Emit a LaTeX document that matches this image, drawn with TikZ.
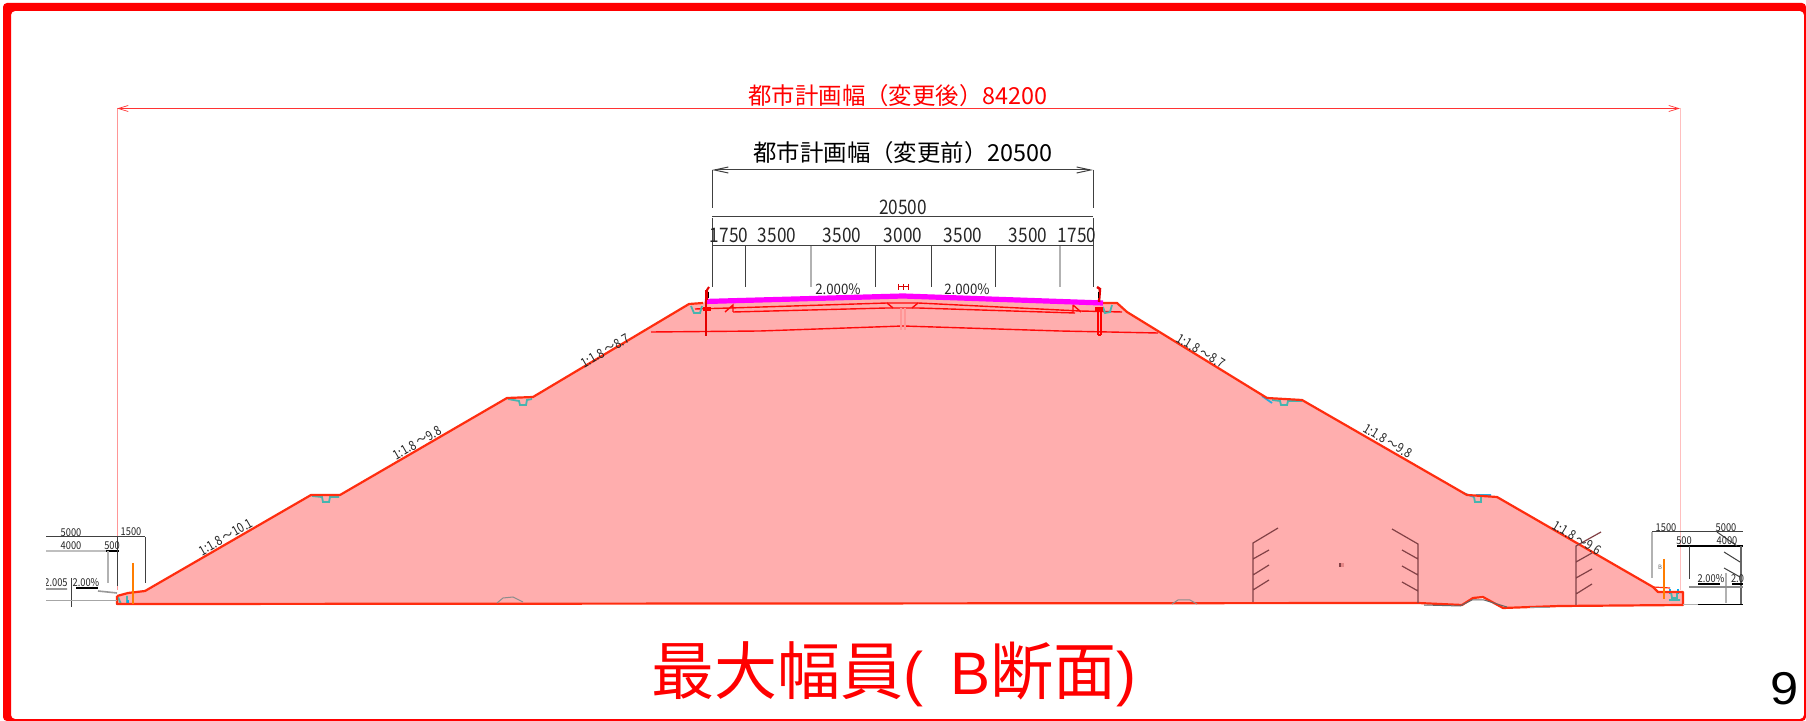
\documentclass[tikz,border=0pt]{standalone}
\usepackage{fontspec}
\setmainfont{Noto Sans CJK JP}
\newfontfamily\latinsans{Liberation Sans}
\newcommand{\numtxt}[1]{\scalebox{0.86}[1]{\fontsize{10pt}{10pt}\selectfont #1}}
\newcommand{\slopetxt}[1]{\scalebox{0.84}[1]{\fontsize{6.6pt}{6.6pt}\selectfont #1}}
\newcommand{\smalltxt}[1]{\scalebox{0.92}[1]{\fontsize{7.2pt}{7.2pt}\selectfont #1}}
\newcommand{\sidetxt}[1]{\scalebox{0.86}[1]{\fontsize{5.4pt}{5.4pt}\selectfont #1}}
\definecolor{embank}{RGB}{255,174,174}
\definecolor{outl}{RGB}{255,45,15}
\definecolor{inred}{RGB}{255,10,10}
\definecolor{wallc}{RGB}{130,65,70}
\definecolor{teal2}{RGB}{70,180,175}
\definecolor{ltred}{RGB}{255,150,150}
\definecolor{roadc}{RGB}{255,0,255}
\definecolor{orangec}{RGB}{255,125,0}
\usetikzlibrary{arrows.meta}
\tikzset{
  dimline/.style={draw=black!75,line width=0.5pt},
  graytick/.style={draw=black!30,line width=0.6pt},
  darktick/.style={draw=black!75,line width=0.5pt},
  wall/.style={draw=wallc,line width=0.6pt},
  inner/.style={draw=inred,line width=0.7pt},
  ditch/.style={draw=teal2,line width=0.9pt},
  txt/.style={inner sep=0pt,outer sep=0pt,anchor=center,text=black!85},
  redarrow/.style={draw=red!80,line width=0.35pt,{Straight Barb[length=5pt,width=3pt]}-{Straight Barb[length=5pt,width=3pt]}},
  blackarrow/.style={draw=black!75,line width=0.5pt,{Straight Barb[length=7pt,width=3pt]}-{Straight Barb[length=7pt,width=3pt]}}
}
\begin{document}
\begin{tikzpicture}[x=0.5pt,y=-0.5pt]
\useasboundingbox (0,0) rectangle (1806,721);
\fill[white] (0,0) rectangle (1806,721);
% frame
\fill[red,even odd rule,rounded corners=2pt] (3,3) rectangle (1806,721) (11,11) rectangle (1804,719);
% embankment
\path[fill=embank] (117,596) -- (128,593) -- (145,591) -- (311,495) -- (340,495) -- (507,398) -- (533,397) -- (689,304) -- (703,303) -- (705,301) -- (903,295) -- (1103,303) -- (1117,303) -- (1127,312) -- (1267,398) -- (1302,400) -- (1467,495) -- (1497,497) -- (1653,587) -- (1658,592) -- (1683,592) -- (1683,605) -- (1560,606) -- (1503,608) -- (1483,597) -- (1473,598) -- (1462,605) -- (1418,603) -- (133,604) -- (117,604) -- cycle;
% light lines
\draw[ltred,line width=0.5pt] (117,108) -- (117,590);
\draw[red!25,line width=0.5pt] (1680,108) -- (1680,590);
\draw[redarrow] (117,108.5) -- (1680,108.5);
% interior lines
\draw[inner] (695,309) -- (730,308) -- (887,303) -- (918,303) -- (1080,311) -- (1122,312);
\draw[inner] (733,312) -- (887,308) -- (918,308) -- (1075,313);
\draw[inner] (651,332) -- (760,331) -- (903,326) -- (1060,331) -- (1158,333);
\draw[inner] (725,312) -- (733,305) -- (733,312);
\draw[inner] (1073,305) -- (1073,312) (1073,305) -- (1081,312);
\draw[inner] (887,303) -- (893,308) (918,303) -- (912,308);
\draw[ltred,line width=0.8pt] (901,308) -- (901,330) (905,308) -- (905,330);
% ditches
\draw[ditch] (691,306) -- (694,313) -- (700,313) -- (702,306);
\draw[ditch] (1103,307) -- (1105,313) -- (1110,312) -- (1112,305);
\draw[ditch] (508,399) -- (519,401) -- (520,405) -- (526,405) -- (527,400) -- (532,399);
\draw[ditch] (312,496) -- (322,497) -- (323,502) -- (329,502) -- (330,497) -- (339,497);
\draw[ditch,cyan!70!teal2] (1262,396) -- (1272,403);
\draw[ditch] (1272,400) -- (1280,401) -- (1281,405) -- (1287,405) -- (1288,401) -- (1302,401);
\draw[ditch,cyan!70!teal2] (1463,493) -- (1474,497) (1476,495) -- (1491,495);
\draw[ditch] (1474,497) -- (1475,502) -- (1481,502) -- (1481,497);
\draw[ditch] (118,597) -- (121,604) -- (127,604) -- (127,596);
\draw[cyan,line width=1pt] (117,600) -- (117,604.5) -- (128,604.5) -- (128,600);
\draw[cyan,line width=1pt] (1670,589) -- (1670,594) (1678,589) -- (1678,594);
\draw[ditch] (1671,592) -- (1672,598) -- (1677,598) -- (1677,592) (1669,600) -- (1680,600);
% outline
\draw[outl,line width=1.1pt,line join=round] (117,596) -- (128,593) -- (145,591) -- (311,495) -- (340,495) -- (507,398) -- (533,397) -- (689,304) -- (703,303);
\draw[outl,line width=1.1pt,line join=round] (1103,303) -- (1117,303) -- (1127,312) -- (1267,398) -- (1302,400) -- (1467,495) -- (1497,497) -- (1653,587) -- (1658,592) -- (1683,592) -- (1683,605) -- (1560,606) -- (1503,608) -- (1483,597) -- (1473,598) -- (1462,605) -- (1418,603) -- (133,604) -- (117,604) -- (117,596);
\draw[outl,line width=0.6pt] (1653,587) -- (1670,588);
% base bumps, grey underlay
\draw[black!45,line width=0.5pt] (497,603) -- (503,598) -- (513,597) -- (523,602);
\draw[black!45,line width=0.5pt] (1172,604) -- (1178,600) -- (1190,600) -- (1197,604);
\draw[black!60,line width=0.5pt] (1424,605) -- (1460,606) -- (1472,600) -- (1484,600) -- (1507,607);
\draw[black!40,line width=0.5pt] (1530,607.5) -- (1550,607.5);
% walls
\draw[wall] (1278,528) -- (1253,543) -- (1253,602) (1253,559) -- (1269,550) (1253,575) -- (1269,565) (1253,590) -- (1269,580);
\draw[wall] (1392,529) -- (1418,544) -- (1418,603) (1418,559) -- (1402,550) (1418,575) -- (1402,566) (1418,591) -- (1402,582);
\draw[wall] (1576,546) -- (1576,605) (1576,546) -- (1601,532) (1576,562) -- (1592,553) (1576,578) -- (1592,569) (1576,594) -- (1592,584);
\fill[wallc] (1339,563) rectangle (1341,567);
\fill[ltred!90!black] (1341,563) rectangle (1344,567);
% road
\draw[roadc,line width=2.6pt,line join=round] (705,301.5) -- (903,296) -- (1103,303);
% posts
\draw[red!90!black,line width=1.4pt] (706,290) -- (706,336);
\draw[red!90!black,line width=1pt] (709,287) -- (707,290) -- (707,300);
\draw[black,line width=.5pt] (708,292) -- (708,298);
\draw[red,line width=1pt] (1098,310) -- (1098,335) (1101,310) -- (1101,335) (1098,335) -- (1101,335);
\draw[red!90!black,line width=1.2pt] (1097,287) -- (1100,289) -- (1099,302);
\draw[black,line width=.5pt] (1098,292) -- (1098,298);
\fill[red] (1095,307) rectangle (1103,311);
\fill[red] (703,307) rectangle (711,311);
% centre mark
\draw[red!85!black,line width=0.5pt] (898,284) -- (898,290) (908,284) -- (908,290) (898,287) -- (908,287) (903,284) -- (903,290);
% black dims
\draw[blackarrow] (712,170) -- (1093,170);
\draw[darktick] (712,170) -- (712,208) (1093,170) -- (1093,208);
\draw[dimline] (712,217) -- (1093,217);
\draw[dimline] (712,246) -- (1093,246);
\draw[darktick] (712,218) -- (712,287) (745,246) -- (745,287) (875,246) -- (875,287) (931,246) -- (931,287) (995,246) -- (995,287) (1093,218) -- (1093,287);
\draw[graytick] (811,246) -- (811,287) (1060,246) -- (1060,287);
% orange posts
\draw[orangec,line width=1.4pt] (133,563) -- (133,604);
\draw[orangec,line width=1.4pt] (1664,559) -- (1664,599);
% left small dims
\begin{scope}
\clip (46,500) rectangle (160,620);
\draw[dimline] (46,537) -- (145,537);
\draw[black!25,line width=0.8pt] (46,551) -- (108,551);
\draw[black,line width=0.6pt] (106,551) -- (119,551);
\draw[graytick] (108,551) -- (108,583);
\draw[darktick] (117,537) -- (117,586) (145,537) -- (145,583);
\draw[darktick] (71,578) -- (71,607);
\draw[black,line width=0.6pt] (76,588) -- (98,588);
\draw[black!40,line width=0.8pt] (46,589) -- (67,589) (98,591) -- (117,593);
\draw[black!35,line width=0.5pt] (46,601) -- (117,601);
\node[txt] (t2005) at (56,583) {\sidetxt{2.005}};
\end{scope}
\node[txt] (l5000) at (71,533) {\sidetxt{5000}};
\node[txt] (l1500) at (131,532) {\sidetxt{1500}};
\node[txt] (l4000) at (71,546) {\sidetxt{4000}};
\node[txt] (l500) at (112,546) {\sidetxt{500}};
\node[txt] (l200) at (86,583) {\sidetxt{2.00\%}};
% right small dims
\begin{scope}
\clip (1640,500) rectangle (1743,620);
\draw[dimline] (1652,532) -- (1743,532);
\draw[black,line width=0.6pt] (1677,546) -- (1743,546);
\draw[graytick] (1652,532) -- (1652,578) (1726,573) -- (1726,603);
\draw[darktick] (1689,546) -- (1689,579);
\draw[black!60,line width=0.6pt] (1741,546) -- (1741,605);
\draw[darktick] (1717,532) -- (1737,546) (1724,552) -- (1740,562) (1724,568) -- (1740,577);
\draw[black!45,line width=0.8pt] (1689,587) -- (1743,587);
\draw[black,line width=0.6pt] (1698,584) -- (1720,584) (1732,584) -- (1743,584);
\draw[black!30,line width=0.6pt] (1683,604.5) -- (1698,604.5);
\draw[black,line width=0.5pt] (1698,604.5) -- (1743,604.5);
\node[txt,anchor=west] (r20) at (1731,579) {\sidetxt{2.0}};
\end{scope}
\node[txt] (r1500) at (1666,528) {\sidetxt{1500}};
\node[txt] (r5000) at (1726,528) {\sidetxt{5000}};
\node[txt] (r500) at (1684,541) {\sidetxt{500}};
\node[txt] (r4000) at (1727,541) {\sidetxt{4000}};
\node[txt] (r200) at (1711,579) {\sidetxt{2.00\%}};
\node[txt,text=black!60,font=\fontsize{3pt}{3pt}\selectfont] (rb) at (1660,567) {B};
% slope labels
\node[txt,rotate=30] (s1) at (226,537) {\slopetxt{1:1.8 ～10.1}};
\node[txt,rotate=30] (s2) at (417,443) {\slopetxt{1:1.8 ～9.8}};
\node[txt,rotate=30] (s3) at (605,351) {\slopetxt{1:1.8 ～8.7}};
\node[txt,rotate=-31] (s4) at (1201,351) {\slopetxt{1:1.8 ～8.7}};
\node[txt,rotate=-31] (s5) at (1388,441) {\slopetxt{1:1.8 ～9.8}};
\node[txt,rotate=-31] (s6) at (1577,538) {\slopetxt{1:1.8 ～9.6}};
% road texts
\node[txt] (p1) at (838,289) {\smalltxt{2.000\%}};
\node[txt] (p2) at (967,289) {\smalltxt{2.000\%}};
\node[txt] (d0) at (903,207) {\numtxt{20500}};
\node[txt] (d1) at (729,235) {\numtxt{1750}};
\node[txt] (d2) at (777,235) {\numtxt{3500}};
\node[txt] (d3) at (842,235) {\numtxt{3500}};
\node[txt] (d4) at (903,235) {\numtxt{3000}};
\node[txt] (d5) at (963,235) {\numtxt{3500}};
\node[txt] (d6) at (1028,235) {\numtxt{3500}};
\node[txt] (d7) at (1077,235) {\numtxt{1750}};
% headings
\node[txt,text=red,font=\fontsize{11.7pt}{11.7pt}\selectfont] (after) at (898,96) {都市計画幅（変更後）84200};
\node[txt,text=black,font=\fontsize{11.7pt}{11.7pt}\selectfont] (before) at (903,153) {都市計画幅（変更前）20500};
\node[txt,text=red,font=\fontsize{31.5pt}{31.5pt}\selectfont] (title) at (894,674) {最大幅員{\latinsans\fontsize{30pt}{30pt}\selectfont (\hspace{13.5pt}B}断面{\latinsans\fontsize{30pt}{30pt}\selectfont )}};
\node[txt,text=black,font=\latinsans\fontsize{23pt}{23pt}\selectfont] (pg) at (1785,689) {\scalebox{1.1}[1]{9}};
\end{tikzpicture}
\end{document}
